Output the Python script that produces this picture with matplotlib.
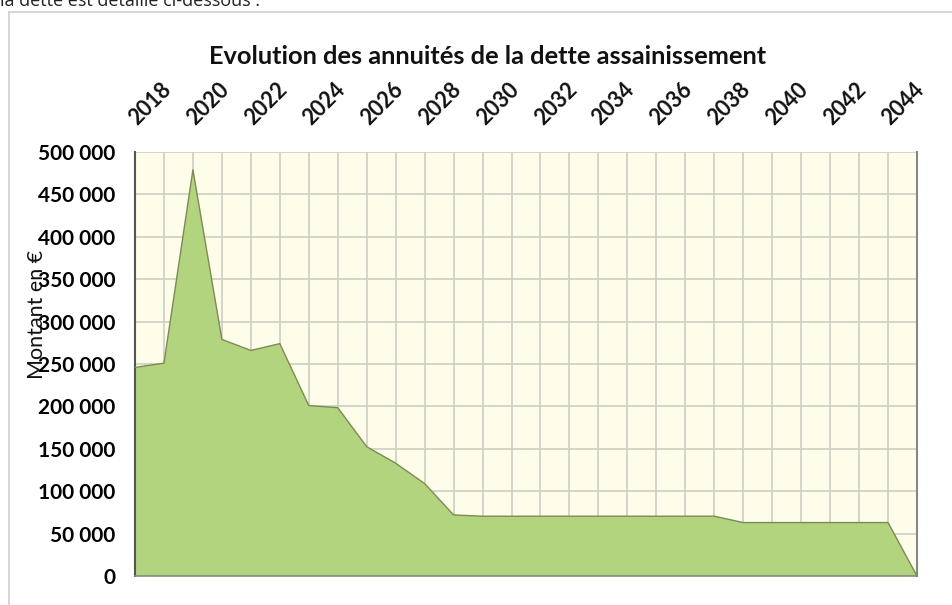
import matplotlib
matplotlib.use("Agg")
import matplotlib.pyplot as plt
from matplotlib.lines import Line2D
import matplotlib.transforms as mtransforms

years = list(range(2018, 2046))
values = [246000, 251000, 479000, 279000, 266000, 274000, 201000, 198500,
          152500, 133000, 109000, 72000, 70500, 70500, 70500, 70500, 70500,
          70500, 70500, 70500, 70500, 63000, 63000, 63000, 63000, 63000,
          63000, 0]
label_years = list(range(2018, 2045, 2))
yticks = [0, 50000, 100000, 150000, 200000, 250000, 300000, 350000, 400000, 450000, 500000]
ytick_labels = ["0", "50 000", "100 000", "150 000", "200 000", "250 000",
                "300 000", "350 000", "400 000", "450 000", "500 000"]
title = "Evolution des annuités de la dette assainissement"
ylabel = "Montant en €"
header = "la dette est détaillé ci-dessous :"

W, H = 952, 605
fig = plt.figure(figsize=(W / 100, H / 100), dpi=100)
fig.patch.set_facecolor("white")

# frame of the chart object
fig.add_artist(Line2D([9 / W, 9 / W], [0, 1 - 12 / H], transform=fig.transFigure,
                      color="#cfcfcf", lw=1.2))
fig.add_artist(Line2D([9 / W, 1], [1 - 12 / H, 1 - 12 / H], transform=fig.transFigure,
                      color="#cfcfcf", lw=1.2))
fig.text(0.0, 1 - 1 / H, header, fontsize=13, family="Open Sans",
         ha="left", va="center", color="#222222")

left, right, top, bottom = 135, 917, 152, 576
ax = fig.add_axes([left / W, 1 - bottom / H, (right - left) / W, (bottom - top) / H])
ax.set_facecolor("#fdfde9")

x = list(range(len(years)))
ax.fill_between(x, values, 0, facecolor="#b2d47f", edgecolor="none", zorder=2)
ax.plot(x, values, color="#7d8a55", lw=1.0, zorder=3)

ax.set_xlim(0, len(years) - 1)
ax.set_ylim(0, 500000)
ax.set_xticks(x)
ax.set_xticklabels([])
ax.tick_params(axis="x", length=0, labelbottom=False)
ax.set_yticks(yticks)
ax.set_yticklabels(ytick_labels, family="Lato", fontweight="bold", fontsize=15)
ax.tick_params(axis="y", length=0, pad=14)
ax.grid(True, color="#cdcdc4", lw=1.2, zorder=1)
ax.set_axisbelow(True)

ax.spines["top"].set_visible(False)
ax.spines["left"].set_color("#555555")
ax.spines["left"].set_linewidth(1.5)
ax.spines["right"].set_color("#888888")
ax.spines["right"].set_linewidth(1.5)
ax.spines["bottom"].set_color("#8a8a7a")
ax.spines["bottom"].set_linewidth(1.2)

# top rotated year labels
for yr in label_years:
    i = years.index(yr)
    tr = mtransforms.offset_copy(ax.get_xaxis_transform(), fig=fig, x=5, y=23, units="dots")
    ax.text(i, 1.0, str(yr), transform=tr, rotation=45, rotation_mode="anchor",
            ha="left", va="bottom", family="Lato", fontweight="bold", fontsize=15.5,
            color="#111111")

fig.text(488 / W, 1 - 57 / H, title, family="Lato", fontweight="bold", fontsize=18.3,
         ha="center", va="center", color="#111111")
fig.text(37 / W, 1 - 314 / H, ylabel, family="Lato", fontsize=15.5, rotation=90,
         ha="center", va="center", color="#111111")

fig.savefig("out.png", dpi=100)
